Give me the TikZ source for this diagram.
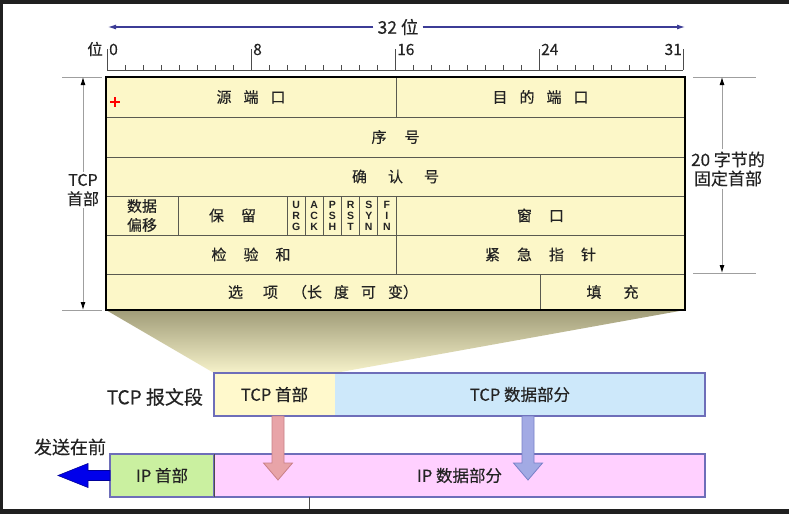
\documentclass[tikz,border=0pt]{standalone}
\usepackage{fontspec}
\setmainfont{Noto Sans CJK SC}[FakeBold=0.35]
\newfontfamily\latf{Liberation Sans}
\usetikzlibrary{calc,arrows.meta}
\definecolor{tabfill}{RGB}{252,247,200}
\definecolor{linegray}{RGB}{90,90,80}
\definecolor{topblue}{RGB}{60,60,150}
\definecolor{hdrfill}{RGB}{255,249,204}
\definecolor{datafill}{RGB}{205,232,250}
\definecolor{ipfill}{RGB}{202,240,160}
\definecolor{ipdfill}{RGB}{255,208,255}
\definecolor{segborder}{RGB}{110,110,185}
\definecolor{redarrow}{RGB}{232,164,168}
\definecolor{redarrowb}{RGB}{200,128,135}
\definecolor{bluearrow}{RGB}{162,170,228}
\definecolor{bluearrowb}{RGB}{120,128,200}
\definecolor{frame}{RGB}{32,32,32}
\definecolor{trapTop}{RGB}{160,156,120}
\definecolor{trapBot}{RGB}{246,242,202}
\definecolor{txt}{RGB}{35,35,35}
\newcommand\gp[1]{\hspace{#1pt}}
\begin{document}
\begin{tikzpicture}[x=1pt,y=-1pt,text=txt,
  cell/.style={draw=linegray,line width=0.9pt,fill=tabfill,inner sep=0pt,outer sep=0pt,
    font=\fontsize{15}{20}\selectfont,align=center},
  flagcell/.style={cell,font=\latf\bfseries\fontsize{10.5}{11}\selectfont},
  side/.style={fill=white,inner sep=2pt,align=center,font=\fontsize{16}{19}\selectfont},
  seg/.style={inner sep=0pt,outer sep=0pt,font=\fontsize{16.5}{18}\selectfont},
  dimline/.style={draw=gray!75,line width=0.9pt},
  dimtip/.style={-{Latex[length=8pt,width=5pt,color=black]}},
  toptip/.style={draw=topblue,line width=1.1pt,-{Latex[length=8pt,width=5pt]}},
  rulerline/.style={draw=black!70,line width=0.8pt},
  num/.style={inner sep=0pt,font=\fontsize{15.5}{18}\selectfont},
]
\useasboundingbox (0,0) rectangle (789,514);
\fill[white] (0,0) rectangle (789,514);
% dark frame
\fill[frame] (0,0) rectangle (789,4);
\fill[frame] (0,0) rectangle (3,514);
\fill[frame] (0,509) rectangle (789,514);

% 32 bit arrow
\node[num,fill=white,inner sep=4pt,font=\fontsize{17.5}{20}\selectfont] (w32) at (398,27) {32 位};
\coordinate (wl) at (108,27);
\coordinate (wr) at (685,27);
\draw[toptip] (w32) -- (wl);
\draw[toptip] (w32) -- (wr);

% ruler
\draw[rulerline] (107,70) -- (683,70);
\foreach \i in {0,...,32}{
  \pgfmathtruncatemacro\m{mod(\i,8)}
  \ifnum\m=0
    \draw[rulerline] ({107+\i*18},49) -- ({107+\i*18},70);
  \else
    \draw[rulerline] ({107+\i*18},65) -- ({107+\i*18},70);
  \fi
}
\node[num,anchor=base east] (wei) at (103,55) {位};
\node[num,anchor=base west] (n0) at (109,55) {0};
\node[num,anchor=base west] (n8) at (253,55) {8};
\node[num,anchor=base west] (n16) at (397,55) {16};
\node[num,anchor=base west] (n24) at (541,55) {24};
\node[num,anchor=base east] (n31) at (682,55) {31};

% trapezoid shadow
\coordinate (tl) at (106,310);
\coordinate (tr) at (685,310);
\shade[top color=trapTop,bottom color=trapBot] (tl) -- (tr) -- (335,373) -- (214,373) -- cycle;

% table cells
\node[cell,minimum width=290pt,minimum height=40pt] (src) at (251,97) {源\gp{12}端\gp{12}口};
\node[cell,minimum width=289pt,minimum height=40pt] (dst) at (540.5,97) {目\gp{12}的\gp{12}端\gp{12}口};
\node[cell,minimum width=579pt,minimum height=40pt] (seq) at (395.5,137) {序\gp{18}号};
\node[cell,minimum width=579pt,minimum height=39pt] (ack) at (395.5,176.5) {确\gp{21}认\gp{21}号};
\node[cell,minimum width=72pt,minimum height=39pt] (off) at (142,215.5) {数据\\[-1pt]偏移};
\node[cell,minimum width=109pt,minimum height=39pt] (res) at (232.5,215.5) {保\gp{17}留};
\node[flagcell,minimum width=18.17pt,minimum height=39pt] (furg) at (296.08,215.5) {U\\R\\G};
\node[flagcell,minimum width=18.17pt,minimum height=39pt] (fack) at (314.25,215.5) {A\\C\\K};
\node[flagcell,minimum width=18.17pt,minimum height=39pt] (fpsh) at (332.42,215.5) {P\\S\\H};
\node[flagcell,minimum width=18.17pt,minimum height=39pt] (frst) at (350.58,215.5) {R\\S\\T};
\node[flagcell,minimum width=18.17pt,minimum height=39pt] (fsyn) at (368.75,215.5) {S\\Y\\N};
\node[flagcell,minimum width=18.17pt,minimum height=39pt] (ffin) at (386.92,215.5) {F\\I\\N};
\node[cell,minimum width=289pt,minimum height=39pt] (win) at (540.5,215.5) {窗\gp{17}口};
\node[cell,minimum width=290pt,minimum height=39pt] (chk) at (251,254.5) {检\gp{17}验\gp{17}和};
\node[cell,minimum width=289pt,minimum height=39pt] (urg) at (540.5,254.5) {紧\gp{17}急\gp{17}指\gp{17}针};
\node[cell,minimum width=434pt,minimum height=36pt] (opt) at (323,292) {选\gp{20}项\gp{14}（长\gp{12}度\gp{12}可\gp{12}变）};
\node[cell,minimum width=145pt,minimum height=36pt] (pad) at (612.5,292) {填\gp{22}充};
\draw[line width=2.3pt,line join=miter] (src.north west) rectangle (pad.south east);

% red plus
\draw[red,line width=1.2pt] (110,102) -- (120,102) (115,97) -- (115,107);

% left dimension
\coordinate (lt) at (83,77);
\coordinate (lb) at (83,310);
\draw[dimline] (62,77) -- (102,77);
\draw[dimline] (62,310) -- (102,310);
\node[side] (tcplab) at (83,190) {TCP\\首部};
\draw[dimline,dimtip] (tcplab) -- (lt);
\draw[dimline,dimtip] (tcplab) -- (lb);

% right dimension
\coordinate (rt) at (722,77);
\coordinate (rb) at (722,273);
\draw[dimline] (693,77) -- (756,77);
\draw[dimline] (693,273) -- (756,273);
\node[side,font=\fontsize{17}{19}\selectfont] (fixlab) at (728,169) {20 字节的\\固定首部};
\draw[dimline,dimtip] (fixlab.north -| rt) -- (rt);
\draw[dimline,dimtip] (fixlab.south -| rb) -- (rb);

% TCP segment
\node[seg,anchor=east,font=\fontsize{19}{21}\selectfont] (seglab) at (203,397) {TCP 报文段};
\node[seg,fill=hdrfill,minimum width=121pt,minimum height=43pt] (tcph) at (274.5,394.5) {TCP 首部};
\node[seg,fill=datafill,minimum width=370pt,minimum height=43pt] (tcpd) at (520,394.5) {TCP 数据部分};
\draw[segborder,line width=1.3pt] (tcph.north west) rectangle (tcpd.south east);

% IP datagram
\node[seg,fill=ipfill,draw=segborder,line width=1.3pt,minimum width=104pt,minimum height=43pt] (iph) at (162,475.5) {IP 首部};
\node[seg,fill=ipdfill,draw=segborder,line width=1.3pt,minimum width=491pt,minimum height=43pt] (ipd) at (459.5,475.5) {IP 数据部分};
\draw[black!70,line width=1pt] (iph.north east) -- (iph.south east);

% down arrows
\coordinate (ra) at (278,416);
\coordinate (ba) at (528,416);
\filldraw[fill=redarrow,draw=redarrowb,line width=0.8pt]
  ($(ra)+(-6,0)$) -- ($(ra)+(-6,47)$) -- ($(ra)+(-14.5,47)$) -- ($(ra)+(0,64)$)
  -- ($(ra)+(14.5,47)$) -- ($(ra)+(6,47)$) -- ($(ra)+(6,0)$) -- cycle;
\filldraw[fill=bluearrow,draw=bluearrowb,line width=0.8pt]
  ($(ba)+(-6,0)$) -- ($(ba)+(-6,47)$) -- ($(ba)+(-14.5,47)$) -- ($(ba)+(0,64)$)
  -- ($(ba)+(14.5,47)$) -- ($(ba)+(6,47)$) -- ($(ba)+(6,0)$) -- cycle;

% send-first arrow
\coordinate (sa) at (iph.west);
\filldraw[fill=blue!92!black,draw=blue!60!black,line width=0.6pt]
  ($(sa)+(0,-5)$) -- ($(sa)+(-22,-5)$) -- ($(sa)+(-22,-12)$) -- ($(sa)+(-52,0)$)
  -- ($(sa)+(-22,12)$) -- ($(sa)+(-22,5)$) -- ($(sa)+(0,5)$) -- cycle;
\node[seg,font=\fontsize{18}{20}\selectfont] (sendlab) at (70,447) {发送在前};

% thin line below
\coordinate (bl) at (309,509);
\draw[black!70,line width=0.8pt] (ipd.south -| bl) -- (bl);
\end{tikzpicture}
\end{document}
